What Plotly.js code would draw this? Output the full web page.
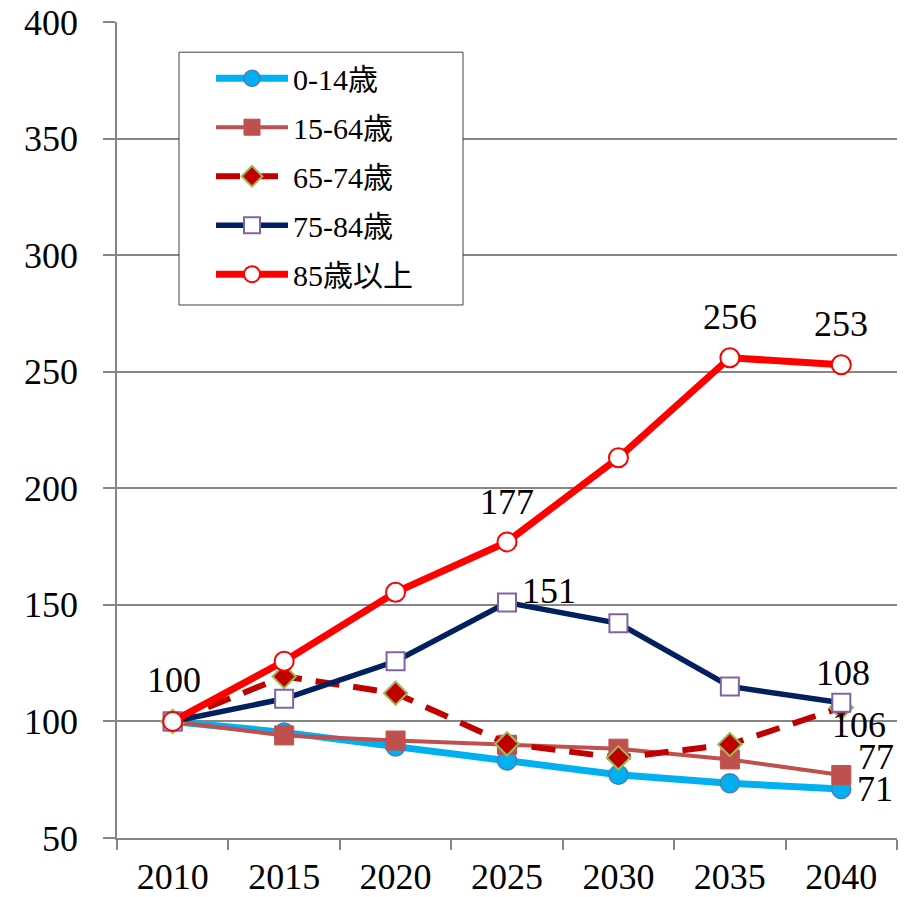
<!DOCTYPE html>
<html>
<head>
<meta charset="utf-8">
<script src="https://cdn.plot.ly/plotly-3.0.1.min.js"></script>
<style>
  body { margin: 0; background: #fff; }
  #chart { width: 910px; height: 897px; }
</style>
</head>
<body>
<div id="chart"></div>
<script>
    // 年次（カテゴリ）
    var years = ["2010", "2015", "2020", "2025", "2030", "2035", "2040"];

    // 2010年=100 とした指数
    var age0_14 = [100, 95.3, 89.2, 83.2, 77.1, 73.5, 71];
    var age15_64 = [100, 94, 91.8, 90, 88.3, 83.7, 77];
    var age65_74 = [100, 119.3, 112.1, 90.4, 84.4, 90.1, 106];
    var age75_84 = [100, 109.7, 125.8, 151, 142.1, 115, 108];
    var age85over = [100, 125.8, 155.4, 177, 213.1, 256, 253];

    var seriesNames = ["0-14歳", "15-64歳", "65-74歳", "75-84歳", "85歳以上"];

    var fuente = "Times New Roman, Liberation Serif, Noto Sans CJK JP, serif";
    var gris = "#868686";

    var data = [
        {
            x: years, y: age0_14, name: seriesNames[0], legendgroup: "a",
            mode: "lines+markers", type: "scatter",
            line: { color: "#00B0F0", width: 7 },
            marker: { symbol: "circle", size: 19, color: "#00B0F0", line: { color: "#4A7EBB", width: 1.5 } }
        },
        {
            x: years, y: age15_64, name: seriesNames[1], legendgroup: "b",
            mode: "lines+markers", type: "scatter",
            line: { color: "#C0504D", width: 4 },
            marker: { symbol: "square", size: 19, color: "#C0504D", line: { color: "#C0504D", width: 1 } }
        },
        {
            x: years, y: age65_74, name: seriesNames[2], legendgroup: "c",
            mode: "lines+markers", type: "scatter",
            line: { color: "#C00000", width: 6, dash: "24px,14px" },
            marker: { symbol: "diamond", size: 18, color: "#C00000", line: { color: "#9BBB59", width: 2 } }
        },
        {
            x: years, y: age75_84, name: seriesNames[3], legendgroup: "d",
            mode: "lines+markers", type: "scatter",
            line: { color: "#002060", width: 5.5 },
            marker: { symbol: "square", size: 18, color: "#FFFFFF", line: { color: "#8064A2", width: 2 } }
        },
        {
            x: years, y: age85over, name: seriesNames[4], legendgroup: "e",
            mode: "lines+markers", type: "scatter",
            line: { color: "#FF0000", width: 7 },
            marker: { symbol: "circle", size: 19, color: "#FFFFFF", line: { color: "#FF0000", width: 2 } }
        }
    ];

    // etiquetas de datos: serie, indice, desplazamiento
    var etiquetas = [
        { s: age85over, i: 0, dx: 1, dy: 41 },
        { s: age85over, i: 3, dx: 0, dy: 40 },
        { s: age85over, i: 5, dx: 0, dy: 41 },
        { s: age85over, i: 6, dx: 0, dy: 41 },
        { s: age75_84, i: 3, dx: 42, dy: 12 },
        { s: age75_84, i: 6, dx: 2, dy: 30 },
        { s: age65_74, i: 6, dx: 18, dy: -18 },
        { s: age15_64, i: 6, dx: 35, dy: 18 },
        { s: age0_14, i: 6, dx: 34, dy: 0 }
    ];

    var anotaciones = etiquetas.map(function (e) {
        return {
            x: e.i, y: e.s[e.i], xref: "x", yref: "y",
            text: String(e.s[e.i]), showarrow: false,
            xshift: e.dx, yshift: e.dy,
            font: { family: fuente, size: 36, color: "#000" }
        };
    });

    var layout = {
        width: 910,
        height: 897,
        margin: { l: 117, r: 13, t: 22, b: 59 },
        paper_bgcolor: "#fff",
        plot_bgcolor: "#fff",
        font: { family: fuente, size: 36, color: "#000" },
        showlegend: true,
        legend: {
            x: 0.1205, y: 0.963, xanchor: "left", yanchor: "top",
            bgcolor: "rgba(0,0,0,0)",
            borderwidth: 0,
            font: { family: fuente, size: 30, color: "#000" },
            itemwidth: 72,
            traceorder: "grouped",
            tracegroupgap: 7
        },
        // recuadro de la leyenda
        shapes: [{
            type: "rect", xref: "paper", yref: "paper", layer: "above",
            x0: 0.0795, x1: 0.4436, y0: 0.6532, y1: 0.963,
            fillcolor: "#fff", line: { color: "#404040", width: 1 }
        }],
        xaxis: {
            type: "category",
            range: [-0.5, 6.5],
            showgrid: false,
            zeroline: false,
            showline: true,
            linecolor: gris,
            linewidth: 1.5,
            ticks: "outside",
            tickson: "boundaries",
            ticklen: 10,
            tickcolor: gris,
            tickwidth: 1.5,
            ticklabelstandoff: 6,
            tickfont: { family: fuente, size: 36, color: "#000" }
        },
        yaxis: {
            range: [50, 400],
            dtick: 50,
            tick0: 50,
            showgrid: true,
            gridcolor: gris,
            gridwidth: 1.5,
            zeroline: false,
            showline: true,
            linecolor: gris,
            linewidth: 1.5,
            ticks: "outside",
            ticklen: 12,
            tickcolor: gris,
            tickwidth: 1.5,
            ticklabelstandoff: 18,
            tickfont: { family: fuente, size: 36, color: "#000" }
        },
        annotations: anotaciones
    };

    Plotly.newPlot("chart", data, layout, { displayModeBar: false });
</script>
</body>
</html>
